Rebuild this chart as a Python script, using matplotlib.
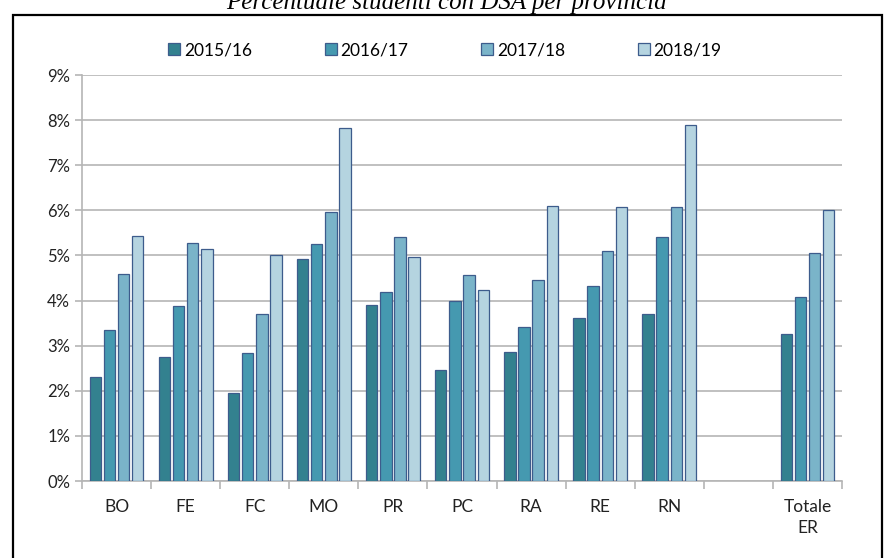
import matplotlib
matplotlib.use("Agg")
import matplotlib.pyplot as plt
import numpy as np
from matplotlib.patches import Rectangle

categories = ["BO", "FE", "FC", "MO", "PR", "PC", "RA", "RE", "RN", "", "Totale\nER"]
series_names = ["2015/16", "2016/17", "2017/18", "2018/19"]
v2015 = [2.30, 2.75, 1.95, 4.92, 3.90, 2.47, 2.87, 3.62, 3.70, np.nan, 3.25]
v2016 = [3.35, 3.88, 2.83, 5.25, 4.20, 3.98, 3.42, 4.33, 5.40, np.nan, 4.08]
v2017 = [4.58, 5.28, 3.70, 5.97, 5.40, 4.57, 4.45, 5.10, 6.07, np.nan, 5.05]
v2018 = [5.42, 5.15, 5.00, 7.82, 4.97, 4.23, 6.10, 6.07, 7.90, np.nan, 6.00]
yticks = [0, 1, 2, 3, 4, 5, 6, 7, 8, 9]

colors = ["#33818F", "#4599B0", "#7AB4C9", "#B5D4E0"]
edge = "#3D5C8C"

plt.rcParams['font.family'] = ['Lato', 'DejaVu Sans']

fig = plt.figure(figsize=(8.92, 5.58), dpi=100)
ax = fig.add_axes([82/892, 1-481/558, (842-82)/892, (481-75)/558])

x = np.arange(len(categories))
bw = 0.165
pitch = 0.205
for i, vals in enumerate([v2015, v2016, v2017, v2018]):
    ax.bar(x + (i-1.5)*pitch, vals, width=bw, color=colors[i], edgecolor=edge,
           linewidth=0.9, label=series_names[i], zorder=3)

ax.set_xlim(-0.5, len(categories)-0.5)
ax.set_ylim(0, 9)
ax.set_yticks(yticks)
ax.set_yticklabels([f"{t}%" for t in yticks])
ax.yaxis.grid(True, color="#B5B5B5", linewidth=1.2, zorder=0)
ax.set_axisbelow(True)
ax.set_xticks(x)
ax.set_xticklabels(categories, linespacing=1.4)
ax.set_xticks(np.arange(len(categories)+1) - 0.5, minor=True)
ax.tick_params(axis='x', which='major', length=0, pad=13, labelsize=12.5, colors="#222222")
ax.tick_params(axis='x', which='minor', length=6, color="#B5B5B5", width=1.2)
ax.tick_params(axis='y', length=5, color="#B5B5B5", width=1.2, labelsize=12, labelcolor="#222222")
for s in ["top", "right"]:
    ax.spines[s].set_visible(False)
for s in ["left", "bottom"]:
    ax.spines[s].set_color("#B5B5B5")
    ax.spines[s].set_linewidth(1.2)

leg = fig.legend(loc="center", bbox_to_anchor=(445/892, 1-50/558), ncol=4, frameon=False,
                 fontsize=12.5, handlelength=0.7, handleheight=0.7, handletextpad=0.2,
                 columnspacing=4.2)

fig.patches.append(Rectangle((13/892, -0.01), (882-13)/892, 1-15/558+0.01,
                             transform=fig.transFigure, fill=False, edgecolor="black",
                             linewidth=1.6))
fig.text(0.5, 1-9/558, "Percentuale studenti con DSA per provincia", ha="center",
         va="baseline", fontsize=18, style="italic", family="Liberation Serif")

fig.savefig("out.png", dpi=100)
